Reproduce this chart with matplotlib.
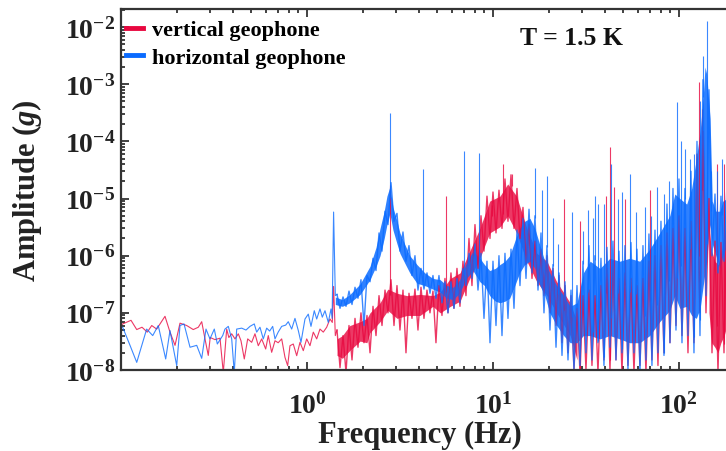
import numpy as np
import matplotlib
matplotlib.use("Agg")
import matplotlib.pyplot as plt
from matplotlib.lines import Line2D
from matplotlib.ticker import LogLocator, NullFormatter

plt.rcParams.update({
    'font.family': ['Liberation Serif', 'DejaVu Serif'],
    'font.weight': 'bold',
    'axes.labelweight': 'bold',
    'axes.unicode_minus': False,
    'mathtext.fontset': 'custom',
    'mathtext.rm': 'Liberation Serif:bold',
    'mathtext.it': 'Liberation Serif:italic:bold',
    'mathtext.bf': 'Liberation Serif:bold',
    'axes.linewidth': 1.6,
})

# ---------------- data ----------------
series_names = ["vertical geophone", "horizontal geophone"]
annotation = "T = 1.5 K"

# low-frequency part (individual line vertices)
vert_low_freq = [0.100, 0.1021, 0.1132, 0.1215, 0.1297, 0.1385, 0.1463, 0.1555, 0.1724, 0.1834,
                 0.1952, 0.2076, 0.2255, 0.2446, 0.2604, 0.2716, 0.2829, 0.2946, 0.3017, 0.3201,
                 0.3406, 0.3548, 0.370, 0.3800, 0.3937, 0.4101, 0.4272, 0.4417, 0.4601, 0.4799,
                 0.5042, 0.5252, 0.5472, 0.5707, 0.5997, 0.6192, 0.6458, 0.6729, 0.7000, 0.7311,
                 0.7614, 0.7872, 0.8100, 0.8438, 0.8803, 0.9170, 0.9552, 0.9963, 1.0378, 1.0811,
                 1.1276, 1.1745, 1.2237, 1.2761, 1.3296, 1.3680, 1.3900, 1.4200, 1.4500]
vert_low_amp = [6.0e-8, 6.4e-8, 7.4e-8, 5.1e-8, 5.6e-8, 4.6e-8, 6.0e-8, 5.2e-8, 8.7e-8, 4.6e-8,
                2.7e-8, 6.6e-8, 6.0e-8, 5.1e-8, 5.6e-8, 7.0e-8, 3.5e-8, 1.8e-8, 3.7e-8, 3.4e-8,
                3.6e-8, 9.0e-9, 5.2e-8, 3.7e-8, 4.3e-8, 3.5e-8, 4.3e-8, 3.25e-8, 1.56e-8, 3.5e-8,
                3.05e-8, 4.3e-8, 2.66e-8, 3.5e-8, 2.33e-8, 4.0e-8, 2.04e-8, 3.25e-8, 3.0e-8, 3.5e-8,
                1.67e-8, 1.19e-8, 2.66e-8, 2.85e-8, 1.78e-8, 3.05e-8, 2.18e-8, 3.5e-8, 2.66e-8, 4.6e-8,
                3.5e-8, 5.2e-8, 4.6e-8, 5.6e-8, 7.8e-8, 6.8e-8, 2.9e-7, 4.0e-8, 5.0e-8]

horiz_low_freq = [0.100, 0.1021, 0.1118, 0.1215, 0.1374, 0.1481, 0.1586, 0.1739, 0.1834, 0.1993,
                  0.2076, 0.2182, 0.2350, 0.2553, 0.2716, 0.2864, 0.3008, 0.3174, 0.3295, 0.3522,
                  0.3623, 0.3775, 0.3937, 0.4065, 0.4188, 0.4455, 0.4700, 0.4937, 0.5207, 0.5364,
                  0.5587, 0.5821, 0.6070, 0.6300, 0.6539, 0.6729, 0.7000, 0.7311, 0.7681, 0.7931,
                  0.8273, 0.8618, 0.8981, 0.9283, 0.9755, 1.0162, 1.0507, 1.0945, 1.1276, 1.1745,
                  1.2088, 1.2497, 1.3018, 1.3460, 1.3650, 1.3900, 1.4200, 1.4500]
horiz_low_amp = [5.6e-8, 5.6e-8, 2.7e-8, 1.36e-8, 5.2e-8, 4.0e-8, 6.0e-8, 1.56e-8, 4.9e-8, 1.19e-8,
                 6.0e-8, 6.4e-8, 2.5e-8, 2.7e-8, 1.6e-8, 5.2e-8, 3.5e-8, 5.2e-8, 2.85e-8, 4.0e-8,
                 5.2e-8, 5.8e-8, 3.5e-8, 9.0e-9, 5.2e-8, 5.4e-8, 5.0e-8, 5.8e-8, 6.4e-8, 4.6e-8,
                 5.6e-8, 3.5e-8, 5.4e-8, 4.8e-8, 5.8e-8, 3.5e-8, 4.6e-8, 5.8e-8, 6.1e-8, 7.0e-8,
                 5.2e-8, 8.0e-8, 4.9e-8, 3.05e-8, 7.8e-8, 9.5e-8, 5.8e-8, 1.09e-7, 7.8e-8, 1.17e-7,
                 8.4e-8, 1.09e-7, 6.8e-8, 1.17e-7, 8.0e-8, 5.8e-6, 2.0e-7, 2.1e-7]

# dense part (1.45 Hz upward): alternating local maxima / minima
dense_freq = [1.450, 1.505, 1.562, 1.621, 1.682, 1.746, 1.812, 1.880, 1.951, 2.025,
              2.102, 2.182, 2.264, 2.350, 2.439, 2.531, 2.627, 2.726, 2.829, 2.936,
              3.047, 3.162, 3.282, 3.406, 3.535, 3.668, 3.807, 3.951, 4.101, 4.256,
              4.417, 4.584, 4.757, 4.937, 5.124, 5.318, 5.519, 5.728, 5.944, 6.169,
              6.403, 6.645, 6.896, 7.157, 7.430, 7.710, 8.002, 8.306, 8.620, 8.946,
              9.284, 9.636, 10.00, 10.38, 10.77, 11.18, 11.60, 12.04, 12.50, 12.97,
              13.46, 13.97, 14.50, 15.05, 15.62, 16.21, 16.82, 17.46, 18.12, 18.80,
              19.51, 20.25, 21.02, 21.82, 22.64, 23.50, 24.39, 25.31, 26.27, 27.26,
              28.29, 29.36, 30.47, 31.62, 32.82, 34.06, 35.35, 36.68, 38.07, 39.51,
              41.01, 42.56, 44.17, 45.84, 47.57, 49.37, 51.24, 53.18, 55.19, 57.28,
              59.44, 61.69, 64.03, 66.45, 68.96, 71.57, 74.30, 77.10, 80.02, 83.06,
              86.20, 89.46, 92.84, 96.36, 100.0, 103.8, 107.7, 111.8, 116.0, 120.4,
              125.0, 129.7, 134.6, 139.7, 145.0, 150.5, 156.2, 162.1, 168.2, 174.6,
              181.2]
vert_dense_amp = [5e-8, 1.1e-8, 4e-8, 9e-9, 6e-8, 1.5e-8, 8e-8, 2.5e-8, 1.0e-7, 3e-8,
                  9e-8, 2e-8, 1.3e-7, 4e-8, 2e-7, 6e-8, 2.5e-7, 1.0e-7, 3.8e-7, 6e-8,
                  3e-7, 5e-8, 2.5e-7, 2e-8, 2.2e-7, 8e-8, 2.6e-7, 5e-8, 2.8e-7, 8e-8,
                  2.5e-7, 1.0e-7, 2.4e-7, 3e-8, 3e-7, 9e-8, 4e-7, 1.0e-7, 5e-7, 1.2e-7,
                  6e-7, 1.3e-7, 8e-7, 2e-7, 2e-6, 3e-7, 3.5e-6, 6e-7, 5e-6, 1.2e-6,
                  1.1e-5, 2e-6, 1.3e-5, 2.5e-6, 1.4e-5, 3e-6, 2.2e-5, 4e-6, 2.6e-5, 3e-6,
                  1.5e-5, 2e-6, 7e-6, 7e-7, 3.5e-6, 4e-7, 1.8e-6, 3e-7, 1.3e-6, 2e-7,
                  1.0e-6, 1.0e-7, 6e-7, 6e-8, 4.5e-7, 3e-8, 3e-7, 2e-8, 2e-7, 1e-8,
                  1.2e-7, 9e-9, 2e-7, 1e-8, 2.5e-7, 1.2e-8, 2e-7, 9e-9, 3e-7, 1.5e-8,
                  6e-7, 1e-8, 8e-7, 1.5e-8, 4e-7, 9e-9, 5e-7, 1.2e-8, 4e-7, 9e-9,
                  3e-7, 1.2e-8, 4e-7, 9e-9, 8e-7, 1.5e-8, 1.0e-6, 1.2e-8, 1.5e-6, 2e-8,
                  2.5e-6, 3e-8, 3e-6, 6e-8, 5e-6, 4e-8, 3e-6, 2e-8, 4e-6, 3e-8,
                  6e-5, 1e-7, 1.5e-4, 1e-7, 1e-5, 2e-8, 1.8e-6, 9e-9, 1.7e-6, 2e-8,
                  6e-6]
horiz_dense_amp = [2.1e-7, 1.2e-7, 1.9e-7, 1.3e-7, 2.4e-7, 1.4e-7, 2.8e-7, 1.8e-7, 3.8e-7, 6e-8,
                   4.5e-7, 3.5e-7, 9e-7, 5.5e-7, 2.5e-6, 1.2e-6, 6e-6, 3.5e-6, 1.9e-5, 4e-6,
                   5.5e-6, 1.2e-6, 2.6e-6, 8e-7, 1.5e-6, 4.5e-7, 1.0e-6, 2.5e-7, 6e-7, 2.6e-7,
                   5e-7, 2.2e-7, 4.5e-7, 1.8e-7, 4.5e-7, 1.5e-7, 3.5e-7, 1.0e-7, 3.5e-7, 1.2e-7,
                   4e-7, 1.5e-7, 6e-7, 3e-7, 1.1e-6, 4e-7, 1.6e-6, 2.5e-7, 1.1e-6, 8e-8,
                   8e-7, 3e-8, 8e-7, 6e-8, 1.0e-6, 4e-8, 1.1e-6, 8e-8, 1.3e-6, 1.2e-7,
                   2.8e-6, 3e-7, 4.5e-6, 4e-7, 6.5e-6, 5e-7, 5e-6, 2.5e-7, 2.5e-6, 1.0e-7,
                   1.5e-6, 5e-8, 7e-7, 2.5e-8, 5e-7, 1.8e-8, 3.5e-7, 1.5e-8, 2.5e-7, 1.0e-8,
                   3e-7, 1.2e-8, 8e-7, 2e-8, 1.5e-6, 1.5e-8, 1.0e-6, 3e-8, 9e-7, 1.2e-8,
                   1.4e-6, 2.5e-8, 1.8e-6, 1.5e-8, 1.2e-6, 2e-8, 1.5e-6, 1.0e-8, 1.7e-6, 2e-8,
                   1.3e-6, 9e-9, 1.5e-6, 1.5e-8, 2.4e-6, 1.2e-8, 2.8e-6, 2e-8, 4e-6, 1.8e-8,
                   8e-6, 3e-8, 1.5e-5, 5e-8, 2.2e-5, 3e-8, 1.5e-5, 4e-8, 3e-5, 2e-8,
                   1.0e-4, 4e-8, 1.2e-3, 2e-7, 8e-4, 1e-6, 1.2e-5, 5e-7, 1.1e-5, 8e-7,
                   1.8e-5]

# solid cores of the densest stretches
horiz_core_freq = [1.42, 1.55, 1.70, 1.93, 2.18, 2.35, 2.47, 2.60, 2.69, 2.79,
                   2.90, 3.05, 3.16, 3.35, 3.57, 3.90, 4.30, 4.75, 5.2, 5.65,
                   6.1, 6.6, 7.2, 7.8, 8.5, 9.0, 9.6, 10.3, 10.9, 11.6,
                   12.3, 13.1, 13.9, 14.8, 15.8, 16.8, 17.9, 19.0, 20.2, 22.0,
                   24.0, 26.0, 28.3, 30.6, 33.3, 37.6, 42.5, 48.0, 54.3, 61.5,
                   69.6, 78.8, 89.2, 95.0, 101, 110, 117, 124, 130, 135,
                   138, 141, 144, 147, 151, 158, 166, 172, 181]
horiz_core_lo = [1.4e-7, 1.3e-7, 1.5e-7, 2.1e-7, 3.8e-7, 6.5e-7, 1.0e-6, 2e-6, 3.5e-6, 5.5e-6,
                 2.8e-6, 1.6e-6, 1.1e-6, 7.5e-7, 5e-7, 3.3e-7, 3e-7, 2.6e-7, 2.3e-7, 1.8e-7,
                 1.7e-7, 2.2e-7, 4e-7, 5.5e-7, 3.5e-7, 3e-7, 2e-7, 1.6e-7, 1.5e-7, 1.6e-7,
                 1.8e-7, 3e-7, 5e-7, 7e-7, 8e-7, 6e-7, 3e-7, 2e-7, 1e-7, 6e-8,
                 4e-8, 3e-8, 3e-8, 4e-8, 4e-8, 3.5e-8, 4e-8, 3.5e-8, 3e-8, 3e-8,
                 4e-8, 7e-8, 1.1e-7, 2e-7, 1.2e-7, 1.3e-7, 9e-8, 8e-8, 1.2e-7, 3e-7,
                 5e-7, 8e-7, 2e-6, 3.5e-6, 1.6e-6, 1e-6, 6e-7, 1e-6, 1.5e-6]
horiz_core_hi = [1.9e-7, 1.7e-7, 2.1e-7, 3.2e-7, 6.5e-7, 1.4e-6, 3e-6, 6e-6, 1.1e-5, 1.6e-5,
                 7e-6, 4e-6, 2.5e-6, 1.6e-6, 1e-6, 7e-7, 5e-7, 4e-7, 3.8e-7, 3e-7,
                 2.8e-7, 3.7e-7, 7.5e-7, 1.2e-6, 9e-7, 7e-7, 5.5e-7, 6e-7, 7e-7, 8e-7,
                 1e-6, 1.8e-6, 3e-6, 4e-6, 4.5e-6, 3e-6, 1.5e-6, 8e-7, 5e-7, 3e-7,
                 2e-7, 1.3e-7, 1.5e-7, 5e-7, 8e-7, 6e-7, 9e-7, 8e-7, 9e-7, 8e-7,
                 1.3e-6, 2.5e-6, 5e-6, 1.2e-5, 1e-5, 8e-6, 1.5e-5, 5e-5, 1.5e-4, 6e-4,
                 2e-3, 1.5e-3, 6e-4, 2.5e-4, 9e-6, 6e-6, 6e-6, 9e-6, 1e-5]
vert_core_freq = [1.45, 1.55, 1.70, 1.93, 2.10, 2.18, 2.47, 2.72, 3.05, 3.45,
                  4.05, 4.75, 5.2, 5.9, 6.65, 7.5, 8.5, 9.6, 10.9, 12.0,
                  13.4, 15.2, 17.2, 19.5, 22.0, 26.0, 28.3]
vert_core_lo = [1.8e-8, 1.6e-8, 2.2e-8, 3.2e-8, 3e-8, 4.5e-8, 7e-8, 1.1e-7, 8e-8, 9e-8,
                9e-8, 1.3e-7, 1e-7, 1.3e-7, 1.6e-7, 4e-7, 9e-7, 2.5e-6, 3.2e-6, 5e-6,
                2.5e-6, 8e-7, 3.5e-7, 2e-7, 1e-7, 4e-8, 1.5e-8]
vert_core_hi = [3.5e-8, 4e-8, 6e-8, 7e-8, 8e-8, 1e-7, 1.5e-7, 2.6e-7, 2.2e-7, 2e-7,
                2.1e-7, 2e-7, 2.3e-7, 4e-7, 5e-7, 1.2e-6, 3e-6, 9e-6, 1.1e-5, 1.8e-5,
                1.1e-5, 3e-6, 1.1e-6, 8e-7, 3.5e-7, 1.5e-7, 7e-8]
vert_tail_freq = [145, 150, 156, 162, 168, 175, 181]
vert_tail_lo = [1e-7, 3e-8, 2.5e-8, 2e-8, 3e-8, 4e-8, 6e-8]
vert_tail_hi = [3e-6, 1.2e-6, 8e-7, 7e-7, 1e-6, 2.5e-6, 4e-6]

# isolated narrow peaks
vert_spike_freq = [2.78, 5.6, 9.9, 11.3, 12.6, 24.0, 29.3, 40.6, 42.7, 45.0,
                   51.0, 70.0, 128, 133, 160, 175]
vert_spike_amp = [1.7e-5, 1.1e-5, 5e-6, 4e-5, 2.7e-5, 1e-5, 4e-6, 1.1e-5, 8e-5, 1.6e-5,
                  1e-5, 1.4e-5, 1.1e-3, 3.7e-4, 4e-5, 4e-5]
horiz_spike_freq = [2.79, 4.2, 7.0, 8.4, 16.8, 18.3, 19.5, 21.0, 22.4,
                    26.6, 30.5, 32.3, 34.4, 35.3, 36.7, 39.4, 43.0, 46.9, 49.3,
                    54.4, 58.5, 65.5, 71.0, 76.0, 83.0, 88.0, 97.6, 102, 108,
                    114, 120, 130, 135, 141, 149, 160, 170]
horiz_spike_amp = [3.2e-4, 3.3e-5, 6.8e-5, 6.3e-5, 3.4e-5, 1.4e-5, 2.5e-5, 4.6e-6, 1.6e-6,
                   5.7e-6, 2.7e-6, 6.4e-6, 4.6e-6, 1.1e-5, 8e-6, 8e-6, 4e-5, 1e-5, 1.3e-5,
                   2.7e-5, 5.7e-6, 7e-6, 5e-6, 1.6e-5, 1.2e-5, 2e-5, 4.9e-4, 1.0e-4, 7.3e-5,
                   5e-5, 6e-5, 5e-4, 3.1e-3, 1.26e-2, 3e-5, 3e-5, 5e-5]

x_ticks = [1e0, 1e1, 1e2]
y_ticks = [1e-8, 1e-7, 1e-6, 1e-5, 1e-4, 1e-3, 1e-2]

# ---------------- drawing ----------------
RED = '#E8073F'
BLUE = '#0A6BFF'

fig = plt.figure(figsize=(7.26, 4.52), dpi=100)
ax = fig.add_axes([121 / 726, 81 / 452, 605 / 726, 361 / 452])
ax.set_xscale('log')
ax.set_yscale('log')


def spikes(color, sf, sa, dense_amp):
    base = 10 ** np.interp(np.log10(sf), np.log10(dense_freq), np.log10(dense_amp))
    ax.vlines(sf, base, sa, color=color, lw=0.8, alpha=0.8)


# vertical geophone (red) first
ax.plot(vert_low_freq, vert_low_amp, color=RED, lw=0.8, alpha=0.8)
ax.fill_between(vert_core_freq, vert_core_lo, vert_core_hi, color=RED, alpha=0.8, lw=0)
ax.fill_between(vert_tail_freq, vert_tail_lo, vert_tail_hi, color=RED, alpha=0.8, lw=0)
ax.plot(dense_freq, vert_dense_amp, color=RED, lw=1.0, alpha=0.8)
spikes(RED, vert_spike_freq, vert_spike_amp, vert_dense_amp)

# horizontal geophone (blue) on top
ax.plot(horiz_low_freq, horiz_low_amp, color=BLUE, lw=0.8, alpha=0.8)
ax.fill_between(horiz_core_freq, horiz_core_lo, horiz_core_hi, color=BLUE, alpha=0.85, lw=0)
ax.plot(dense_freq, horiz_dense_amp, color=BLUE, lw=1.0, alpha=0.8)
spikes(BLUE, horiz_spike_freq, horiz_spike_amp, horiz_dense_amp)

ax.set_xlim(0.1, 179)
ax.set_ylim(1e-8, 2.07e-2)
ax.set_xticks(x_ticks)
ax.set_yticks(y_ticks)
ax.xaxis.set_minor_locator(LogLocator(base=10, subs=np.arange(2, 10), numticks=20))
ax.yaxis.set_minor_locator(LogLocator(base=10, subs=np.arange(2, 10), numticks=20))
ax.xaxis.set_minor_formatter(NullFormatter())
ax.yaxis.set_minor_formatter(NullFormatter())
ax.tick_params(which='both', direction='in', top=True, right=False, width=1.2, colors='#222222')
ax.tick_params(which='major', length=6, labelsize=20, labelcolor='#222222')
ax.tick_params(which='minor', length=3)
ax.tick_params(axis='x', which='major', pad=16)
ax.tick_params(axis='y', which='major', pad=4)
for s in ['left', 'bottom', 'top']:
    ax.spines[s].set_color('#333333')
ax.spines['right'].set_visible(False)

ax.set_xlabel('Frequency (Hz)', fontsize=22, color='#222222')
ax.set_ylabel('Amplitude ($g$)', fontsize=22, color='#222222')
ax.xaxis.set_label_coords(0.494, -0.138)
ax.yaxis.set_label_coords(-0.127, 0.5)

handles = [Line2D([0], [0], color=RED, lw=3.5), Line2D([0], [0], color=BLUE, lw=3.5)]
ax.legend(handles, series_names, loc='upper left', bbox_to_anchor=(-0.018, 1.013),
          frameon=False, fontsize=16, handlelength=0.8, handletextpad=0.4,
          labelspacing=0.3, borderaxespad=0.3)

ax.text(0.745, 0.92, annotation, transform=ax.transAxes, ha='center', va='center',
        fontsize=18.5, color='#111111')

fig.savefig('out.png', dpi=100)
